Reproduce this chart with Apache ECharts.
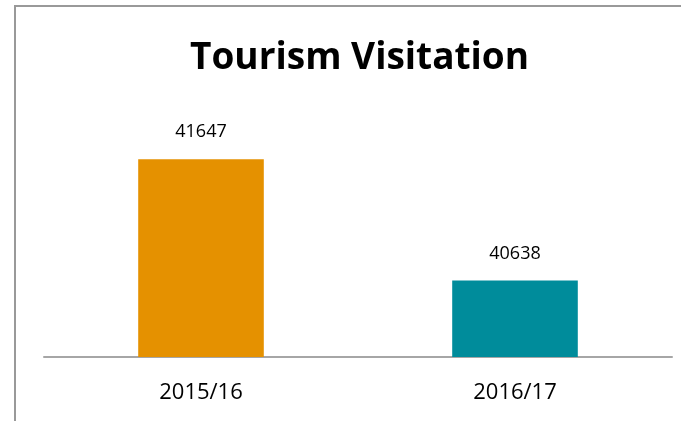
<!DOCTYPE html>
<html>
<head>
<meta charset="utf-8">
<script src="https://cdn.jsdelivr.net/npm/echarts@6/dist/echarts.min.js"></script>
<style>
  html, body { margin: 0; padding: 0; background: #fff; }
  #main { width: 681px; height: 421px; }
</style>
</head>
<body>
<div id="main"></div>
<script>
var years = ['2015/16', '2016/17'];
var visits = [41647, 40638];
var barColors = ['#E59100', '#008C9B'];

var mychart = echarts.init(document.getElementById('main'));

var option = {
    animation: false,
    backgroundColor: '#fff',
    title: {
        text: 'Tourism Visitation',
        left: 185,
        top: 35,
        textStyle: {
            fontFamily: 'Open Sans',
            fontWeight: 'bold',
            fontSize: 37,
            color: '#000'
        }
    },
    graphic: [
        {
            type: 'rect',
            shape: {x: 15, y: 6, width: 1000, height: 1000},
            style: {fill: 'none', stroke: '#999', lineWidth: 2},
            silent: true
        }
    ],
    grid: {
        left: 44,
        right: 9,
        top: 117,
        bottom: 64
    },
    xAxis: {
        type: 'category',
        data: years,
        axisLine: {lineStyle: {color: '#a6a6a6', width: 2}},
        axisTick: {show: false},
        axisLabel: {
            margin: 25,
            fontFamily: 'Open Sans',
            fontSize: 22,
            color: '#000'
        }
    },
    yAxis: {
        type: 'value',
        min: 40000,
        max: 42000,
        show: false,
        splitLine: {show: false}
    },
    series: [
        {
            type: 'bar',
            barWidth: '40%',
            data: visits.map(function (v, i) {
                return {value: v, itemStyle: {color: barColors[i]}};
            }),
            label: {
                show: true,
                position: 'top',
                distance: 18,
                fontFamily: 'Open Sans',
                fontSize: 18,
                color: '#000'
            }
        }
    ]
};

mychart.setOption(option);
</script>
</body>
</html>
